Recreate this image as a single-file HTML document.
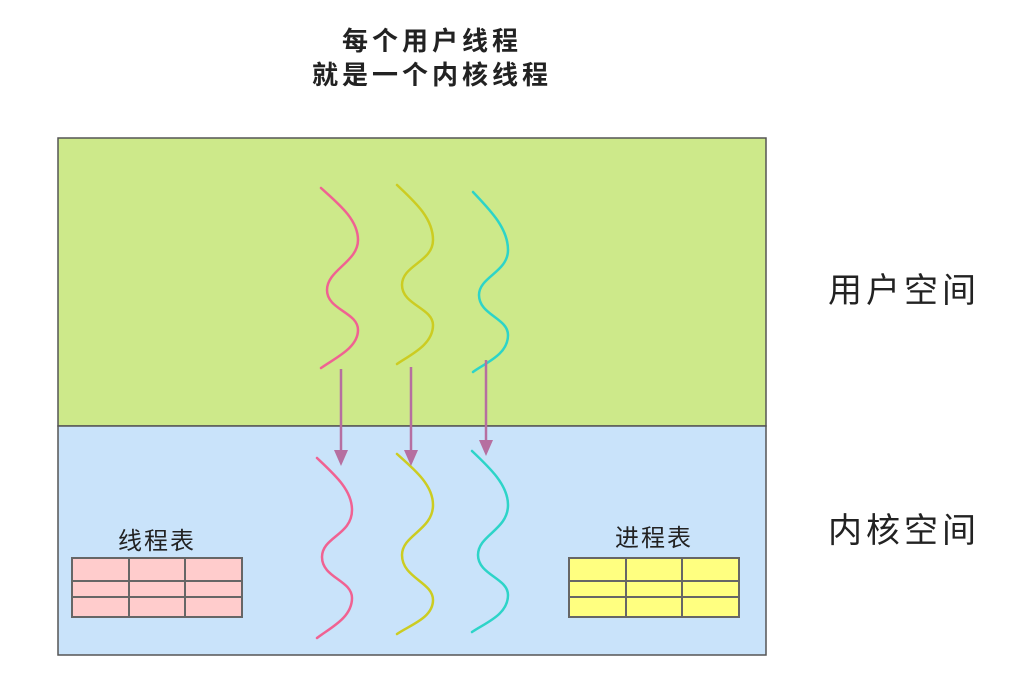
<!DOCTYPE html>
<html><head><meta charset="utf-8"><style>
body{margin:0;background:#fff;}
svg{display:block}
text{font-family:"Liberation Sans","Noto Sans CJK SC",sans-serif;fill:#222}
</style></head><body>
<svg width="1024" height="692" viewBox="0 0 1024 692">
<text x="432" y="50" font-size="26" font-weight="bold" text-anchor="middle" letter-spacing="4">每个用户线程</text>
<text x="432" y="84" font-size="26" font-weight="bold" text-anchor="middle" letter-spacing="4">就是一个内核线程</text>
<rect x="58" y="138" width="708" height="288" fill="#cde98a" stroke="#555" stroke-width="1.5"/>
<rect x="58" y="426" width="708" height="229" fill="#c9e3fa" stroke="#555" stroke-width="1.5"/>
<text x="904" y="302" font-size="34" text-anchor="middle" letter-spacing="4">用户空间</text>
<text x="904" y="542" font-size="34" text-anchor="middle" letter-spacing="4">内核空间</text>
<g fill="none" stroke-width="2.5" stroke-linecap="round">
<path stroke="#f06292" d="M321,188 C340,205 358,220 358,240 C358,262 327,270 327,290 C327,310 358,312 358,330 C358,348 335,358 321,368"/>
<path stroke="#cccc22" d="M397,185 C415,202 433,218 433,240 C433,262 402,265 402,285 C402,305 433,308 433,325 C433,345 410,355 397,364"/>
<path stroke="#2dd4c8" d="M473,192 C490,210 508,228 508,250 C508,272 479,277 479,295 C479,315 508,318 508,335 C508,355 485,363 473,372"/>
<path stroke="#f06292" d="M317,458 C335,475 352,490 352,510 C352,535 322,537 322,557 C322,578 352,580 352,598 C352,618 330,628 317,638"/>
<path stroke="#cccc22" d="M397,454 C415,470 433,485 433,505 C433,530 402,535 402,555 C402,578 433,582 433,600 C433,618 410,625 397,634"/>
<path stroke="#2dd4c8" d="M472,451 C490,468 508,485 508,505 C508,530 478,535 478,555 C478,575 508,578 508,595 C508,615 485,623 472,632"/>
</g>
<g stroke="#b66fa0" stroke-width="2.5">
<line x1="341" y1="369" x2="341" y2="455"/><path d="M334,450 L348,450 L341,466 Z" fill="#b66fa0" stroke="none"/>
<line x1="411" y1="367" x2="411" y2="455"/><path d="M404,450 L418,450 L411,466 Z" fill="#b66fa0" stroke="none"/>
<line x1="486" y1="360" x2="486" y2="445"/><path d="M479,440 L493,440 L486,456 Z" fill="#b66fa0" stroke="none"/>
</g>
<text x="157" y="549" font-size="24" text-anchor="middle" letter-spacing="2">线程表</text>
<text x="654" y="546" font-size="24" text-anchor="middle" letter-spacing="2">进程表</text>
<g stroke="#666" stroke-width="2">
<rect x="72" y="558" width="170" height="59" fill="#ffcccc"/>
<line x1="72" y1="581" x2="242" y2="581"/><line x1="72" y1="597" x2="242" y2="597"/>
<line x1="129" y1="558" x2="129" y2="617"/><line x1="185" y1="558" x2="185" y2="617"/>
<rect x="569" y="558" width="170" height="59" fill="#ffff80"/>
<line x1="569" y1="581" x2="739" y2="581"/><line x1="569" y1="597" x2="739" y2="597"/>
<line x1="626" y1="558" x2="626" y2="617"/><line x1="682" y1="558" x2="682" y2="617"/>
</g>
</svg>
</body></html>
